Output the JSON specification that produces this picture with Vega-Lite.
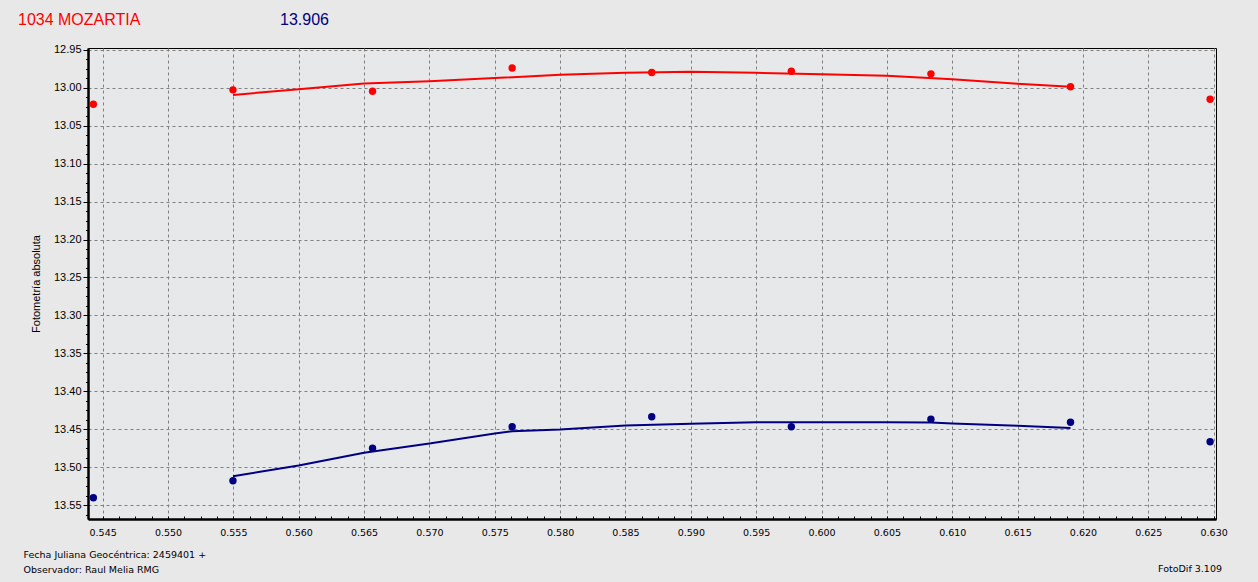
{
  "$schema": "https://vega.github.io/schema/vega-lite/v6.json",
  "width": 1128,
  "height": 471,
  "autosize": "none",
  "padding": {"left": 88, "top": 48, "right": 42, "bottom": 63},
  "background": "#E8E8E8",
  "datasets": {
    "puntos": [
      {"jd": 0.54429, "mag": 13.0221, "serie": "1034 MOZARTIA"},
      {"jd": 0.55497, "mag": 13.0031, "serie": "1034 MOZARTIA"},
      {"jd": 0.56565, "mag": 13.0049, "serie": "1034 MOZARTIA"},
      {"jd": 0.57633, "mag": 12.9743, "serie": "1034 MOZARTIA"},
      {"jd": 0.58701, "mag": 12.9803, "serie": "1034 MOZARTIA"},
      {"jd": 0.59769, "mag": 12.9785, "serie": "1034 MOZARTIA"},
      {"jd": 0.60837, "mag": 12.9820, "serie": "1034 MOZARTIA"},
      {"jd": 0.61905, "mag": 12.9991, "serie": "1034 MOZARTIA"},
      {"jd": 0.62973, "mag": 13.0154, "serie": "1034 MOZARTIA"},
      {"jd": 0.54429, "mag": 13.5399, "serie": "13.906"},
      {"jd": 0.55497, "mag": 13.5175, "serie": "13.906"},
      {"jd": 0.56565, "mag": 13.4746, "serie": "13.906"},
      {"jd": 0.57633, "mag": 13.4465, "serie": "13.906"},
      {"jd": 0.58701, "mag": 13.4333, "serie": "13.906"},
      {"jd": 0.59769, "mag": 13.4465, "serie": "13.906"},
      {"jd": 0.60837, "mag": 13.4364, "serie": "13.906"},
      {"jd": 0.61905, "mag": 13.4404, "serie": "13.906"},
      {"jd": 0.62973, "mag": 13.4662, "serie": "13.906"}
    ],
    "ajuste": [
      {"jd": 0.55497, "mag": 13.0097, "serie": "1034 MOZARTIA"},
      {"jd": 0.560, "mag": 13.0022, "serie": "1034 MOZARTIA"},
      {"jd": 0.565, "mag": 12.9947, "serie": "1034 MOZARTIA"},
      {"jd": 0.570, "mag": 12.9916, "serie": "1034 MOZARTIA"},
      {"jd": 0.575, "mag": 12.9876, "serie": "1034 MOZARTIA"},
      {"jd": 0.580, "mag": 12.9832, "serie": "1034 MOZARTIA"},
      {"jd": 0.585, "mag": 12.9805, "serie": "1034 MOZARTIA"},
      {"jd": 0.590, "mag": 12.9794, "serie": "1034 MOZARTIA"},
      {"jd": 0.595, "mag": 12.9807, "serie": "1034 MOZARTIA"},
      {"jd": 0.600, "mag": 12.9825, "serie": "1034 MOZARTIA"},
      {"jd": 0.605, "mag": 12.9846, "serie": "1034 MOZARTIA"},
      {"jd": 0.610, "mag": 12.9890, "serie": "1034 MOZARTIA"},
      {"jd": 0.615, "mag": 12.9952, "serie": "1034 MOZARTIA"},
      {"jd": 0.61905, "mag": 12.9991, "serie": "1034 MOZARTIA"},
      {"jd": 0.55497, "mag": 13.5114, "serie": "13.906"},
      {"jd": 0.560, "mag": 13.4974, "serie": "13.906"},
      {"jd": 0.565, "mag": 13.4807, "serie": "13.906"},
      {"jd": 0.570, "mag": 13.4684, "serie": "13.906"},
      {"jd": 0.575, "mag": 13.4553, "serie": "13.906"},
      {"jd": 0.57633, "mag": 13.4522, "serie": "13.906"},
      {"jd": 0.580, "mag": 13.4500, "serie": "13.906"},
      {"jd": 0.585, "mag": 13.4447, "serie": "13.906"},
      {"jd": 0.590, "mag": 13.4425, "serie": "13.906"},
      {"jd": 0.595, "mag": 13.4404, "serie": "13.906"},
      {"jd": 0.600, "mag": 13.4404, "serie": "13.906"},
      {"jd": 0.605, "mag": 13.4404, "serie": "13.906"},
      {"jd": 0.60837, "mag": 13.4408, "serie": "13.906"},
      {"jd": 0.610, "mag": 13.4421, "serie": "13.906"},
      {"jd": 0.615, "mag": 13.4452, "serie": "13.906"},
      {"jd": 0.61905, "mag": 13.4482, "serie": "13.906"}
    ],
    "textos": [
      {"t": "x"}
    ]
  },
  "layer": [
    {
      "data": {"name": "ajuste"},
      "mark": {"type": "line", "strokeWidth": 2, "clip": true},
      "encoding": {
        "x": {
          "field": "jd",
          "type": "quantitative",
          "scale": {"domain": [0.54388, 0.63018], "nice": false, "zero": false},
          "axis": {
            "orient": "bottom",
            "values": [0.545, 0.55, 0.555, 0.56, 0.565, 0.57, 0.575, 0.58, 0.585, 0.59, 0.595, 0.6, 0.605, 0.61, 0.615, 0.62, 0.625, 0.63],
            "tickCount": 40,
            "format": ".3f",
            "ticks": false,
            "labelPadding": 8,
            "title": ["Fecha Juliana Geocéntrica: 2459401 +", "Observador: Raul Melia RMG"]
          }
        },
        "y": {
          "field": "mag",
          "type": "quantitative",
          "scale": {"domain": [12.948, 13.5678], "nice": false, "zero": false, "reverse": true},
          "axis": {
            "orient": "left",
            "values": [12.95, 13.0, 13.05, 13.1, 13.15, 13.2, 13.25, 13.3, 13.35, 13.4, 13.45, 13.5, 13.55],
            "tickCount": 40,
            "format": ".2f",
            "tickSize": 5,
            "title": "Fotometría absoluta"
          }
        },
        "color": {
          "field": "serie",
          "type": "nominal",
          "scale": {"domain": ["1034 MOZARTIA", "13.906"], "range": ["#FF0000", "#000080"]},
          "legend": null
        }
      }
    },
    {
      "data": {"name": "puntos"},
      "mark": {"type": "circle", "size": 55, "opacity": 1},
      "encoding": {
        "x": {
          "field": "jd",
          "type": "quantitative",
          "axis": {
            "orient": "bottom",
            "values": [0.545, 0.54625, 0.5475, 0.54875, 0.55, 0.55125, 0.5525, 0.55375, 0.555, 0.55625, 0.5575, 0.55875, 0.56, 0.56125, 0.5625, 0.56375, 0.565, 0.56625, 0.5675, 0.56875, 0.57, 0.57125, 0.5725, 0.57375, 0.575, 0.57625, 0.5775, 0.57875, 0.58, 0.58125, 0.5825, 0.58375, 0.585, 0.58625, 0.5875, 0.58875, 0.59, 0.59125, 0.5925, 0.59375, 0.595, 0.59625, 0.5975, 0.59875, 0.6, 0.60125, 0.6025, 0.60375, 0.605, 0.60625, 0.6075, 0.60875, 0.61, 0.61125, 0.6125, 0.61375, 0.615, 0.61625, 0.6175, 0.61875, 0.62, 0.62125, 0.6225, 0.62375, 0.625, 0.62625, 0.6275, 0.62875, 0.63],
            "tickCount": 200,
            "labels": false,
            "grid": false,
            "domain": false,
            "ticks": true,
            "tickSize": -3,
            "title": null
          }
        },
        "y": {
          "field": "mag",
          "type": "quantitative",
          "axis": {
            "orient": "left",
            "values": [12.95, 12.9625, 12.975, 12.9875, 13.0, 13.0125, 13.025, 13.0375, 13.05, 13.0625, 13.075, 13.0875, 13.1, 13.1125, 13.125, 13.1375, 13.15, 13.1625, 13.175, 13.1875, 13.2, 13.2125, 13.225, 13.2375, 13.25, 13.2625, 13.275, 13.2875, 13.3, 13.3125, 13.325, 13.3375, 13.35, 13.3625, 13.375, 13.3875, 13.4, 13.4125, 13.425, 13.4375, 13.45, 13.4625, 13.475, 13.4875, 13.5, 13.5125, 13.525, 13.5375, 13.55, 13.5625],
            "tickCount": 200,
            "labels": false,
            "grid": false,
            "domain": false,
            "ticks": true,
            "tickSize": 2.5,
            "title": null
          }
        },
        "color": {"field": "serie", "type": "nominal"}
      }
    },
    {
      "data": {"name": "textos"},
      "mark": {"type": "text", "text": "1034 MOZARTIA", "font": "Liberation Sans", "fontSize": 16, "color": "#FF0000", "align": "left", "baseline": "alphabetic", "dx": -70, "dy": -23},
      "encoding": {
        "x": {"datum": 0.54388, "type": "quantitative", "axis": null},
        "y": {"datum": 12.948, "type": "quantitative", "axis": null}
      }
    },
    {
      "data": {"name": "textos"},
      "mark": {"type": "text", "text": "13.906", "font": "Liberation Sans", "fontSize": 16, "color": "#000080", "align": "left", "baseline": "alphabetic", "dx": 192, "dy": -23},
      "encoding": {
        "x": {"datum": 0.54388, "type": "quantitative", "axis": null},
        "y": {"datum": 12.948, "type": "quantitative", "axis": null}
      }
    },
    {
      "data": {"name": "textos"},
      "mark": {"type": "text", "text": "FotoDif 3.109", "font": "DejaVu Sans", "fontSize": 9.5, "color": "#000000", "align": "right", "baseline": "middle", "dx": 6, "dy": 50},
      "encoding": {
        "x": {"datum": 0.63018, "type": "quantitative", "axis": null},
        "y": {"datum": 13.5678, "type": "quantitative", "axis": null}
      }
    }
  ],
  "resolve": {"axis": {"x": "independent", "y": "independent"}},
  "config": {
    "view": {"fill": "#E7E8EA", "stroke": "#000000", "strokeWidth": 1},
    "axis": {
      "grid": true,
      "gridColor": "#808080",
      "gridDash": [3, 3],
      "gridWidth": 1,
      "gridOpacity": 1,
      "labelColor": "#000000",
      "labelFlush": false,
      "labelOverlap": false,
      "labelSeparation": 0,
      "labelBound": false,
      "domainColor": "#000000",
      "domainWidth": 2.5,
      "tickColor": "#000000",
      "tickWidth": 1,
      "titleColor": "#000000",
      "titleFontWeight": "normal"
    },
    "axisX": {
      "labelFont": "DejaVu Sans",
      "labelFontSize": 9.5,
      "titleFont": "DejaVu Sans",
      "titleFontSize": 9.5,
      "titleAnchor": "start",
      "titleAlign": "left",
      "titleBaseline": "top",
      "titleLineHeight": 15,
      "titleX": -65,
      "titleY": 30
    },
    "axisY": {
      "labelFont": "Liberation Sans",
      "labelFontSize": 11,
      "labelPadding": 2,
      "titleFont": "Liberation Sans",
      "titleFontSize": 11,
      "titlePadding": 12
    }
  }
}
